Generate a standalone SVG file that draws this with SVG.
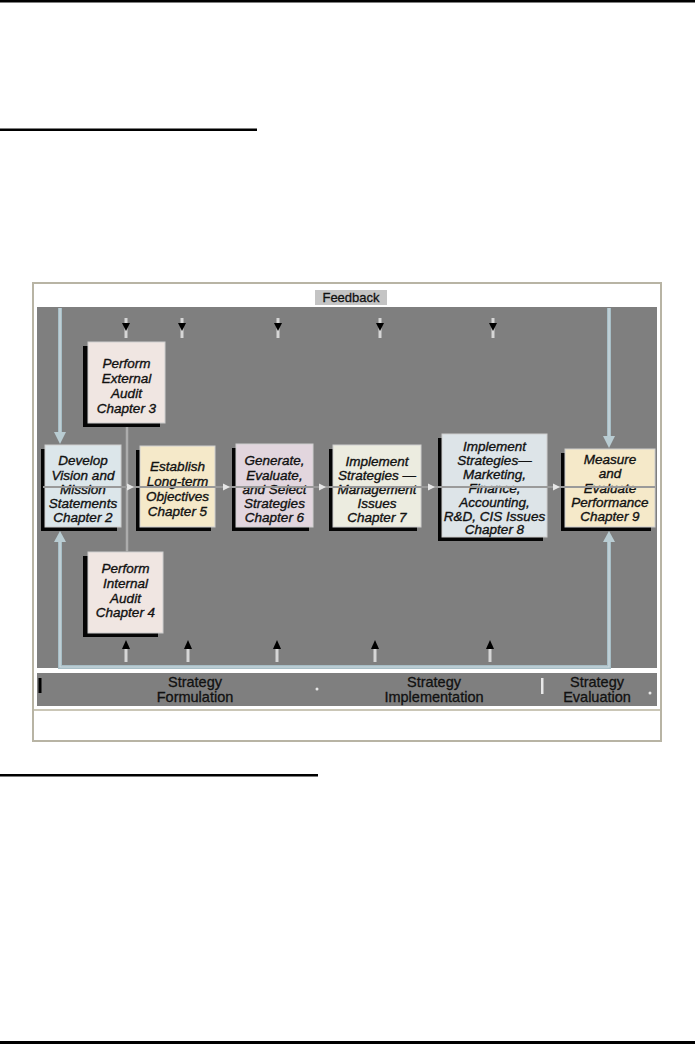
<svg xmlns="http://www.w3.org/2000/svg" width="695" height="1044" viewBox="0 0 695 1044">
<style>
.rule{fill:#000}
.frame{fill:#fff;stroke:#b8b4a4;stroke-width:2}
.bg{fill:#7f7f7f}
.sh{fill:#050505}
.box{stroke:#cfcfcf;stroke-width:1}
.t{font-family:"Liberation Sans",Arial,sans-serif;font-style:italic;font-size:13.5px;fill:#111;stroke:#111;stroke-width:0.35;text-anchor:middle}
.lab{font-family:"Liberation Sans",Arial,sans-serif;font-size:14.5px;fill:#111;stroke:#111;stroke-width:0.3;text-anchor:middle}
.fb{fill:none;stroke:#a7bec6;stroke-width:4}
.fbi{fill:none;stroke:#cddadf;stroke-width:1.2}
.fbh{fill:#b9ccd2}
.conn{fill:none;stroke:#9a9a9a;stroke-width:2}
.ah{fill:#e6e6e6}
.stem{stroke:#d6d6d6;stroke-width:3}
.tick{fill:#000}
</style>
<defs>
<path id="ar" d="M-3,-3.5 L4,0 L-3,3.5 Z"/>
<g id="dn"><line class="stem" x1="0" y1="318" x2="0" y2="338"/><path d="M-4,323 L4,323 L0,331 Z" fill="#000"/></g>
<g id="up"><line class="stem" x1="0" y1="648" x2="0" y2="662"/><path d="M-4,649 L4,649 L0,640 Z" fill="#000"/></g>
</defs>
<rect width="695" height="1044" fill="#fff"/>
<!-- page rules -->
<rect class="rule" x="0" y="0" width="695" height="2.5"/>
<rect class="rule" x="0" y="128.5" width="257" height="2.5"/>
<rect class="rule" x="0" y="774" width="318" height="2.5"/>
<rect class="rule" x="0" y="1041" width="695" height="3"/>
<!-- frame -->
<rect class="frame" x="33" y="283" width="628" height="458"/>
<rect class="bg" x="37" y="307" width="620" height="361"/>
<rect class="bg" x="37" y="673" width="620" height="33"/>
<line x1="34" y1="710" x2="660" y2="710" stroke="#cac6b6" stroke-width="2"/>
<g id="feedback-label">
<rect x="315" y="290" width="72" height="15" fill="#c4c4c4"/>
<text class="lab" x="351" y="302" style="font-size:13px">Feedback</text>
</g>
<!-- nodes -->
<g id="n-external">
<rect class="sh" x="83" y="346" width="77" height="81"/>
<rect class="box" x="88" y="342" width="77" height="81" fill="#f0e6e2"/>
<text class="t" x="126.5" y="368">Perform</text>
<text class="t" x="126.5" y="383">External</text>
<text class="t" x="126.5" y="398">Audit</text>
<text class="t" x="126.5" y="413">Chapter 3</text>
</g>
<g id="n-internal">
<rect class="sh" x="83" y="556" width="75" height="81"/>
<rect class="box" x="88" y="552" width="75" height="81" fill="#f0e6e2"/>
<text class="t" x="125.5" y="572.5">Perform</text>
<text class="t" x="125.5" y="587.5">Internal</text>
<text class="t" x="125.5" y="602.5">Audit</text>
<text class="t" x="125.5" y="617">Chapter 4</text>
</g>
<g id="n-vision">
<rect class="sh" x="41" y="449" width="76" height="82"/>
<rect class="box" x="45" y="445" width="76" height="82" fill="#dce6ea"/>
<text class="t" x="83" y="465">Develop</text>
<text class="t" x="83" y="479.5">Vision and</text>
<text class="t" x="83" y="494">Mission</text>
<text class="t" x="83" y="508">Statements</text>
<text class="t" x="83" y="522">Chapter 2</text>
</g>
<g id="n-objectives">
<rect class="sh" x="136" y="450" width="75" height="81"/>
<rect class="box" x="140" y="446" width="75" height="81" fill="#f5e9c9"/>
<text class="t" x="177.5" y="471">Establish</text>
<text class="t" x="177.5" y="486">Long-term</text>
<text class="t" x="177.5" y="501">Objectives</text>
<text class="t" x="177.5" y="516">Chapter 5</text>
</g>
<g id="n-generate">
<rect class="sh" x="232" y="448" width="77" height="83"/>
<rect class="box" x="236" y="444" width="77" height="83" fill="#e2d6de"/>
<text class="t" x="274.5" y="465">Generate,</text>
<text class="t" x="274.5" y="479.5">Evaluate,</text>
<text class="t" x="274.5" y="494">and Select</text>
<text class="t" x="274.5" y="508">Strategies</text>
<text class="t" x="274.5" y="522">Chapter 6</text>
</g>
<g id="n-management">
<rect class="sh" x="329" y="449" width="88" height="82"/>
<rect class="box" x="333" y="445" width="88" height="82" fill="#ecece0"/>
<text class="t" x="377" y="465.5">Implement</text>
<text class="t" x="377" y="480">Strategies —</text>
<text class="t" x="377" y="494">Management</text>
<text class="t" x="377" y="508">Issues</text>
<text class="t" x="377" y="522">Chapter 7</text>
</g>
<g id="n-marketing">
<rect class="sh" x="438" y="438" width="105" height="103"/>
<rect class="box" x="442" y="434" width="105" height="103" fill="#dde4e8"/>
<text class="t" x="494.5" y="451">Implement</text>
<text class="t" x="494.5" y="465">Strategies—</text>
<text class="t" x="494.5" y="479">Marketing,</text>
<text class="t" x="494.5" y="493">Finance,</text>
<text class="t" x="494.5" y="507">Accounting,</text>
<text class="t" x="494.5" y="520.5">R&amp;D, CIS Issues</text>
<text class="t" x="494.5" y="534">Chapter 8</text>
</g>
<g id="n-measure">
<rect class="sh" x="561" y="453" width="90" height="78"/>
<rect class="box" x="565" y="449" width="90" height="78" fill="#f5e9c9"/>
<text class="t" x="610" y="463.5">Measure</text>
<text class="t" x="610" y="478">and</text>
<text class="t" x="610" y="492.5">Evaluate</text>
<text class="t" x="610" y="507">Performance</text>
<text class="t" x="610" y="521">Chapter 9</text>
</g>
<!-- phase labels -->
<g id="phase-labels">
<text class="lab" x="195" y="687">Strategy</text>
<text class="lab" x="195" y="702">Formulation</text>
<text class="lab" x="434" y="687">Strategy</text>
<text class="lab" x="434" y="702">Implementation</text>
<text class="lab" x="597" y="687">Strategy</text>
<text class="lab" x="597" y="702">Evaluation</text>
<rect class="tick" x="38.5" y="678" width="3" height="15"/>
<rect x="541" y="678" width="2.5" height="16" fill="#e8e8e8"/>
<circle cx="317" cy="689" r="1.5" fill="#e8e8e8"/>
<circle cx="650" cy="693" r="1.5" fill="#e8e8e8"/>
</g>
<!-- connectors -->
<g id="connectors">
<line x1="127" y1="427" x2="127" y2="552" stroke="#acacac" stroke-width="2.5"/>
<line class="conn" x1="43" y1="487" x2="655" y2="487"/>
<use href="#ar" x="130" y="487" class="ah"/>
<use href="#ar" x="226" y="487" class="ah"/>
<use href="#ar" x="322" y="487" class="ah"/>
<use href="#ar" x="431" y="487" class="ah"/>
<use href="#ar" x="556" y="487" class="ah"/>
<!-- feedback loop -->
<path class="fb" d="M60,308 V434 M609,308 V438 M60,540 V667 H609 V540"/>
<path class="fbi" d="M60,308 V434 M609,308 V438 M60,540 V667 H609 V540"/>
<path class="fbh" d="M54,432 L66,432 L60,444 Z"/>
<path class="fbh" d="M603,436 L615,436 L609,448 Z"/>
<path class="fbh" d="M54,542 L66,542 L60,531 Z"/>
<path class="fbh" d="M603,542 L615,542 L609,531 Z"/>
<use href="#dn" x="126"/>
<use href="#dn" x="182"/>
<use href="#dn" x="278"/>
<use href="#dn" x="380"/>
<use href="#dn" x="493"/>
<use href="#up" x="126"/>
<use href="#up" x="188"/>
<use href="#up" x="277"/>
<use href="#up" x="375"/>
<use href="#up" x="490"/>
</g>
</svg>
